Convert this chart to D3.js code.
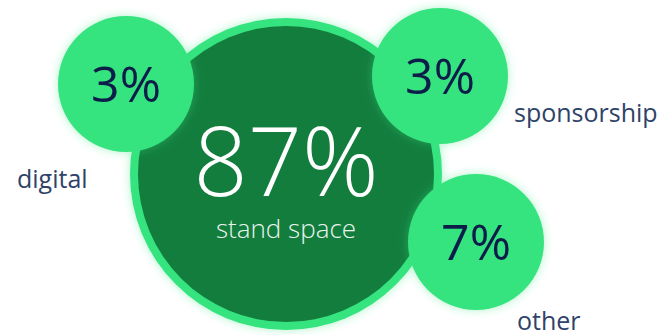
<!DOCTYPE html>
<html>
<head>
<meta charset="utf-8">
<script src="https://cdn.jsdelivr.net/npm/d3@7"></script>
<style>
  html, body { margin: 0; padding: 0; background: #fff; }
  svg { display: block; font-family: "Open Sans", sans-serif; }
</style>
</head>
<body>
<div id="chart"></div>
<script>
// ── Datos ─────────────────────────────────────────────
const categories = ['stand space', 'digital', 'sponsorship', 'other'];
const shares     = [87, 3, 3, 7];

// Layout de burbujas (posición relativa al centro principal)
const bubbleLayout = [
    { dx: 0,    dy: 0,   r: 156, labelDx: 0,    labelDy: 0 },
    { dx: -160, dy: -90, r: 68,  labelDx: -109, labelDy: 104 },
    { dx: 154,  dy: -98, r: 68,  labelDx: 74,   labelDy: 46 },
    { dx: 190,  dy: 68,  r: 68,  labelDx: 41,   labelDy: 88 }
];

const width = 664, height = 335;
const cx = 286, cy = 174;

const svg = d3.select('#chart')
    .append('svg')
    .attr('width', width)
    .attr('height', height);

// Brillo verde alrededor de los círculos
const defs = svg.append('defs');
const glow = defs.append('filter')
    .attr('id', 'glow')
    .attr('x', '-30%').attr('y', '-30%')
    .attr('width', '160%').attr('height', '160%');
glow.append('feDropShadow')
    .attr('dx', 0).attr('dy', 0)
    .attr('stdDeviation', 5)
    .attr('flood-color', '#36e47f')
    .attr('flood-opacity', 0.4);

const nodes = categories.map((c, i) => ({
    name: c,
    value: shares[i],
    x: cx + bubbleLayout[i].dx,
    y: cy + bubbleLayout[i].dy,
    r: bubbleLayout[i].r,
    lx: bubbleLayout[i].labelDx,
    ly: bubbleLayout[i].labelDy
}));

const fmt = d => d3.format('d')(d) + '%';

// ── Círculo principal ────────────────────────────────
const main = nodes[0];
const mainG = svg.append('g').attr('transform', `translate(${main.x},${main.y})`);
mainG.append('circle')
    .attr('r', main.r)
    .attr('fill', '#36e47f')
    .attr('filter', 'url(#glow)');
mainG.append('circle')
    .attr('r', main.r - 8)
    .attr('fill', '#137d3e');

mainG.append('text')
    .attr('text-anchor', 'middle')
    .attr('y', 22)
    .attr('fill', '#fff')
    .style('font-size', '95px')
    .style('font-weight', 300)
    .text(fmt(main.value));
mainG.append('text')
    .attr('text-anchor', 'middle')
    .attr('y', 64)
    .attr('fill', '#e8f5ec')
    .style('font-size', '26px')
    .style('font-weight', 300)
    .text(main.name);

// ── Burbujas pequeñas ────────────────────────────────
const small = svg.selectAll('g.bubble')
    .data(nodes.slice(1))
    .join('g')
    .attr('class', 'bubble')
    .attr('transform', d => `translate(${d.x},${d.y})`);

small.append('circle')
    .attr('r', d => d.r)
    .attr('fill', '#36e47f')
    .attr('filter', 'url(#glow)');

small.append('text')
    .attr('text-anchor', 'middle')
    .attr('y', 18)
    .attr('fill', '#0d1d4a')
    .style('font-size', '50px')
    .style('font-weight', 390)
    .text(d => fmt(d.value));

small.append('text')
    .attr('x', d => d.lx)
    .attr('y', d => d.ly)
    .attr('fill', '#2f4368')
    .style('font-size', '25px')
    .style('font-weight', 370)
    .text(d => d.name);
</script>
</body>
</html>
